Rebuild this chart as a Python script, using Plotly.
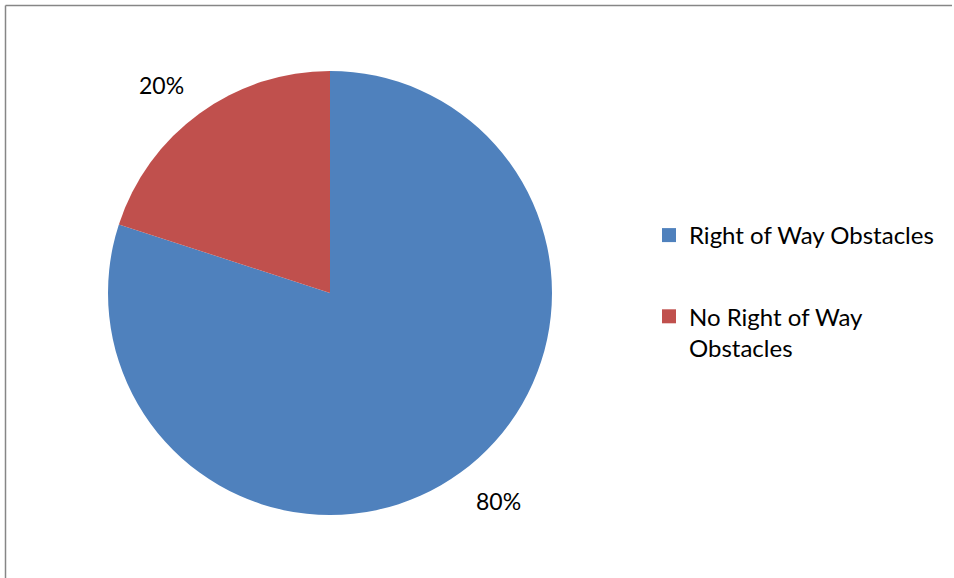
import math
import plotly.graph_objects as go

labels = ["Right of Way Obstacles", "No Right of Way<br>Obstacles"]
values = [80, 20]
colors = ["#4F81BD", "#C0504D"]

W, H = 954, 578
cx, cy, r = 330, 293, 222
FONT = "Lato"

fig = go.Figure()
fig.add_trace(go.Pie(
    labels=labels,
    values=values,
    marker=dict(colors=colors, line=dict(color="white", width=0)),
    sort=False,
    direction="clockwise",
    rotation=0,
    textinfo="none",
    showlegend=False,
    domain=dict(x=[(cx - r) / W, (cx + r) / W], y=[1 - (cy + r) / H, 1 - (cy - r) / H]),
    hoverinfo="label+percent",
))

# legend entries (one group each so the spacing can be matched)
for i, (lab, col) in enumerate(zip(labels, colors)):
    fig.add_trace(go.Scatter(
        x=[None], y=[None], mode="markers", name=lab,
        marker=dict(symbol="square", size=14, color=col),
        legendgroup=f"g{i}", showlegend=True, hoverinfo="skip",
    ))

# percentage labels outside the slices, from the data
total = sum(values)
annotations = []
cum = 0
for v in values:
    mid = (cum + v / 2) / total * 2 * math.pi  # clockwise from 12 o'clock
    cum += v
    dx, dy = math.sin(mid), -math.cos(mid)  # screen coords (y down)
    rr = r + 15
    px, py = cx + dx * rr, cy + dy * rr
    annotations.append(dict(
        x=px / W, y=1 - py / H, xref="paper", yref="paper",
        text=f"{round(v / total * 100)}%", showarrow=False,
        xanchor="left" if dx >= 0 else "right",
        yanchor="top" if dy >= 0 else "bottom",
        xshift=5 if dx >= 0 else -5,
        font=dict(family=FONT, size=23, color="black"),
    ))

fig.update_layout(
    width=W, height=H,
    margin=dict(l=0, r=0, t=0, b=0),
    paper_bgcolor="white",
    plot_bgcolor="white",
    font=dict(family=FONT, size=24, color="black"),
    xaxis=dict(visible=False),
    yaxis=dict(visible=False),
    annotations=annotations,
    legend=dict(
        x=649 / W, y=1 - 213 / H, xanchor="left", yanchor="top",
        font=dict(family=FONT, size=24, color="black"),
        valign="top",
        tracegroupgap=47,
        bgcolor="rgba(0,0,0,0)",
    ),
    shapes=[
        dict(type="line", xref="paper", yref="paper", x0=5.5 / W, x1=952 / W, y0=1 - 5.5 / H, y1=1 - 5.5 / H,
             line=dict(color="#868686", width=1.5)),
        dict(type="line", xref="paper", yref="paper", x0=5.5 / W, x1=5.5 / W, y0=1 - 5.5 / H, y1=0,
             line=dict(color="#868686", width=1.5)),
    ],
)

fig.write_html("out.html", config={"displayModeBar": False},
               post_script="document.body.style.margin='0';")
